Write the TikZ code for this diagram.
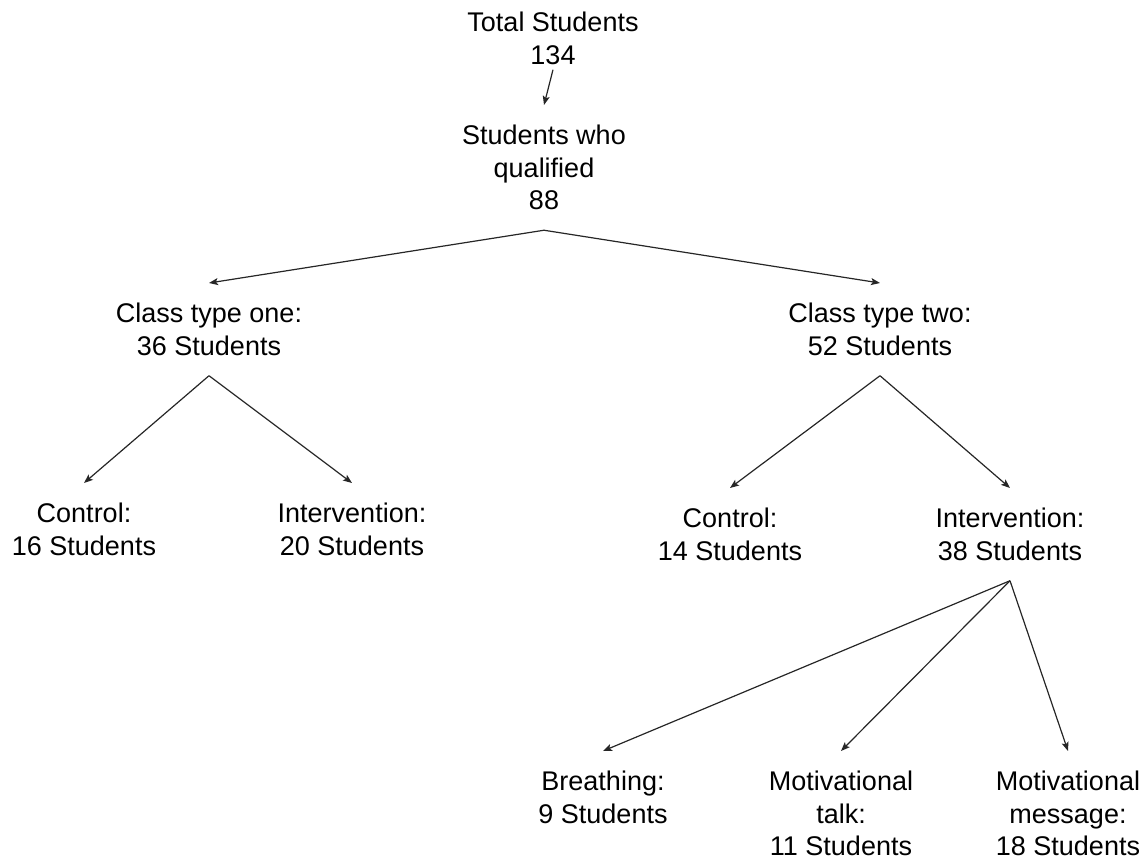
\documentclass[tikz,border=0pt]{standalone}
\usepackage{fontspec}
\setmainfont{Liberation Sans}
\usetikzlibrary{arrows.meta, positioning}

\begin{document}
\begin{tikzpicture}[
        x=1pt, y=-1pt,
        count/.style={align=center, anchor=north, inner xsep=0pt, inner ysep=20pt, font=\fontsize{27}{32.5}\selectfont},
        arrow/.style={-{Stealth[length=9pt, width=7pt, inset=2pt]}, line width=1.2pt, color=black!85}
    ]
    \useasboundingbox (0,0) rectangle (1146,862);

    % Top of the tree
    \node[count, inner ysep=5pt] (total) at (553,7) {Total Students\\134};
    \node[count] (qualified) at (544,105) {Students who\\qualified\\88};

    % Class types
    \node[count] (class_one) at (209,283) {Class type one:\\36 Students};
    \node[count] (class_two) at (880,283) {Class type two:\\52 Students};

    % Groups of class type one
    \node[count] (control_one) at (84,483) {Control:\\16 Students};
    \node[count] (interv_one) at (352,483) {Intervention:\\20 Students};

    % Groups of class type two
    \node[count] (control_two) at (730,488) {Control:\\14 Students};
    \node[count] (interv_two) at (1010,488) {Intervention:\\38 Students};

    % Kinds of intervention
    \node[count] (breathing) at (603,751) {Breathing:\\9 Students};
    \node[count] (talk) at (841,751) {Motivational\\talk:\\11 Students};
    \node[count] (message) at (1068,751) {Motivational\\message:\\18 Students};

    % Connections
    \draw[arrow] (total.south) -- (qualified.north);
    \draw[arrow] (qualified.south) -- (class_one.north);
    \draw[arrow] (qualified.south) -- (class_two.north);
    \draw[arrow] (class_one.south) -- (control_one.north);
    \draw[arrow] (class_one.south) -- (interv_one.north);
    \draw[arrow] (class_two.south) -- (control_two.north);
    \draw[arrow] (class_two.south) -- (interv_two.north);
    \draw[arrow] (interv_two.south) -- (breathing.north);
    \draw[arrow] (interv_two.south) -- (talk.north);
    \draw[arrow] (interv_two.south) -- (message.north);

\end{tikzpicture}
\end{document}
